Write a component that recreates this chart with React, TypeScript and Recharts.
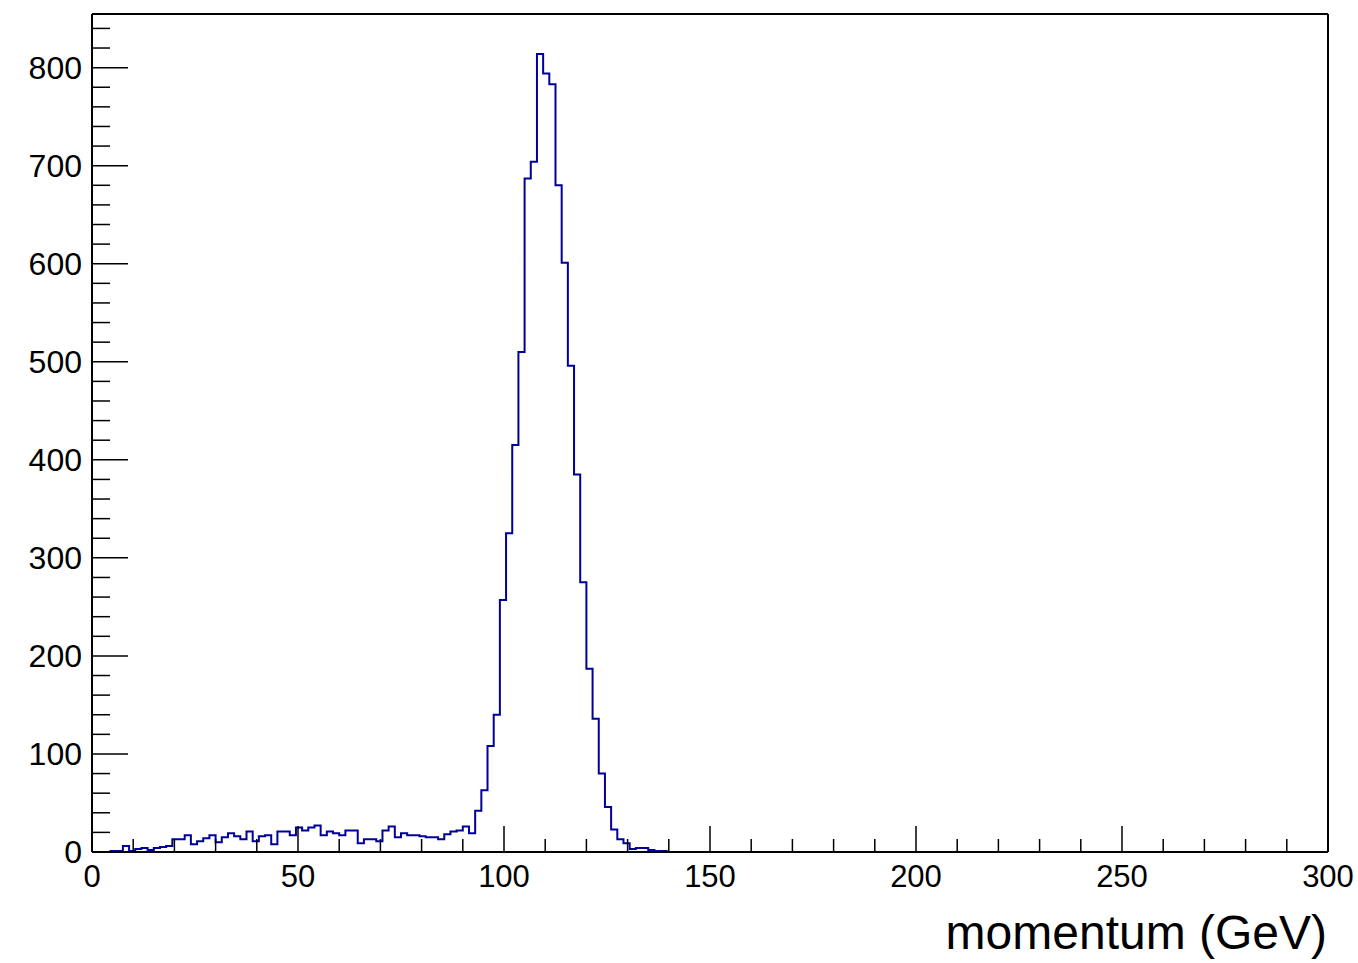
import { Line, LineChart, ReferenceLine, XAxis, YAxis } from 'recharts';

// momentum histogram: 200 bins of 1.5 GeV between 0 and 300
const xMin = 0;
const xMax = 300;
const binWidth = 1.5;

const counts = [
  0, 0, 0, 1, 1, 6, 1, 3, 4, 2, 4, 5, 6, 13, 13, 17, 8, 11, 14, 17,
  10, 15, 19, 16, 13, 21, 11, 16, 17, 8, 21, 21, 17, 25, 22, 25, 27, 17, 21, 19,
  17, 22, 22, 9, 13, 13, 11, 22, 26, 15, 19, 17, 17, 16, 15, 15, 13, 18, 21, 22,
  26, 19, 42, 63, 108, 140, 257, 325, 415, 510, 687, 704, 814, 794, 783, 680, 601, 496, 385, 275,
  187, 136, 80, 46, 23, 13, 9, 3, 4, 4, 2, 1, 1, 0, 0, 0, 0, 0, 0, 0,
  0, 0, 0, 0, 0, 0, 0, 0, 0, 0, 0, 0, 0, 0, 0, 0, 0, 0, 0, 0,
  0, 0, 0, 0, 0, 0, 0, 0, 0, 0, 0, 0, 0, 0, 0, 0, 0, 0, 0, 0,
  0, 0, 0, 0, 0, 0, 0, 0, 0, 0, 0, 0, 0, 0, 0, 0, 0, 0, 0, 0,
  0, 0, 0, 0, 0, 0, 0, 0, 0, 0, 0, 0, 0, 0, 0, 0, 0, 0, 0, 0,
  0, 0, 0, 0, 0, 0, 0, 0, 0, 0, 0, 0, 0, 0, 0, 0, 0, 0, 0, 0,
];

const xMajorTicks = [0, 50, 100, 150, 200, 250, 300];
const xMinorStep = 10;
const yMajorTicks = [0, 100, 200, 300, 400, 500, 600, 700, 800];
const yMinorStep = 20;
const xTitle = 'momentum (GeV)';

// ROOT-style headroom above the tallest bin
const yMax = Math.max(...counts) * 1.05;

// one point per bin low edge, plus a closing point at the upper edge
const data = counts
  .map((count, i) => ({ edge: xMin + i * binWidth, count }))
  .concat([{ edge: xMax, count: counts[counts.length - 1] }]);

const xTicks: number[] = [];
for (let v = xMin; v <= xMax; v += xMinorStep) xTicks.push(v);
const yTicks: number[] = [];
for (let v = 0; v <= yMax; v += yMinorStep) yTicks.push(v);

const FONT = '"Liberation Sans", Arial, Helvetica, sans-serif';
const LABEL_SIZE = 31;

const XTick = (props: any) => {
  const { x, y, payload } = props;
  const v = payload.value as number;
  const major = xMajorTicks.includes(v);
  return (
    <g>
      <line x1={x} x2={x} y1={y} y2={y - (major ? 26 : 13)} stroke='#000' strokeWidth={1.5} />
      {major && (
        <text x={x} y={y + 35} textAnchor='middle' fontSize={LABEL_SIZE} fontFamily={FONT} fill='#000'>
          {v}
        </text>
      )}
    </g>
  );
};

const YTick = (props: any) => {
  const { x, y, payload } = props;
  const v = payload.value as number;
  const major = yMajorTicks.includes(v);
  return (
    <g>
      <line x1={x} x2={x + (major ? 36 : 18)} y1={y} y2={y} stroke='#000' strokeWidth={1.5} />
      {major && (
        <text x={x - 10} y={y + 11} textAnchor='end' fontSize={LABEL_SIZE + 1} fontFamily={FONT} fill='#000'>
          {v}
        </text>
      )}
    </g>
  );
};

const renderTitle = (props: any) => {
  const vb = props.viewBox;
  return (
    <text x={vb.x + vb.width - 1} y={949} textAnchor='end' fontSize={48} fontFamily={FONT} fill='#000'>
      {xTitle}
    </text>
  );
};

export default function App() {
  return (
    <div style={{ position: 'absolute', left: 0, top: 0, width: 1358, height: 963, background: '#fff' }}>
      <LineChart width={1358} height={963} data={data} margin={{ top: 14, right: 30, bottom: 0, left: 0 }}>
        <Line
          type='stepAfter'
          dataKey='count'
          stroke='#000099'
          strokeWidth={2}
          dot={false}
          activeDot={false}
          isAnimationActive={false}
        />
        <XAxis
          dataKey='edge'
          type='number'
          domain={[xMin, xMax]}
          ticks={xTicks}
          interval={0}
          height={111}
          tickSize={0}
          tickMargin={0}
          tick={XTick}
          axisLine={{ stroke: '#000', strokeWidth: 2 }}
          label={renderTitle}
        />
        <YAxis
          type='number'
          domain={[0, yMax]}
          ticks={yTicks}
          interval={0}
          width={92}
          tickSize={0}
          tickMargin={0}
          tick={YTick}
          axisLine={{ stroke: '#000', strokeWidth: 2 }}
        />
        <ReferenceLine y={yMax} stroke='#000' strokeWidth={2} />
        <ReferenceLine x={xMax} stroke='#000' strokeWidth={2} />
      </LineChart>
    </div>
  );
}
